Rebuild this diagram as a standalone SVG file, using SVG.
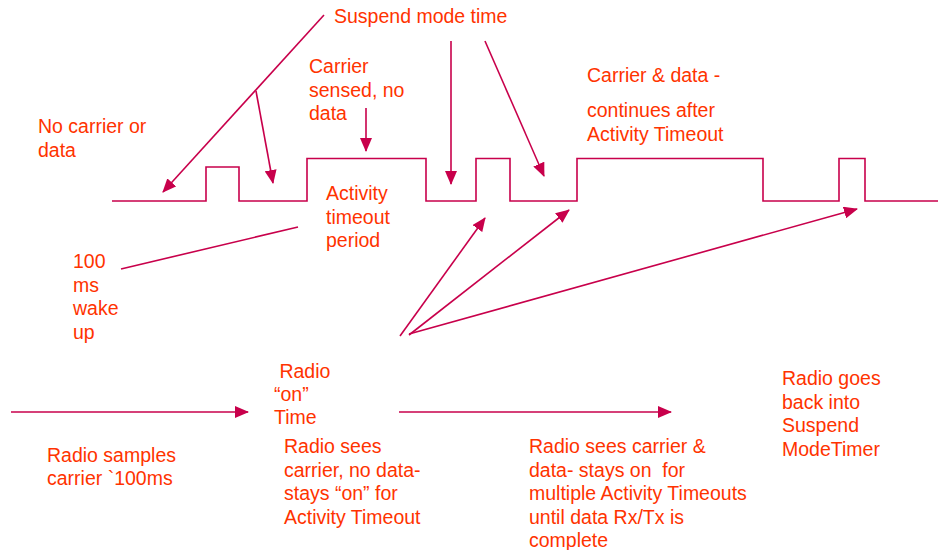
<svg xmlns="http://www.w3.org/2000/svg" width="938" height="550" viewBox="0 0 938 550">
<style>
text{font-family:"Liberation Sans",Arial,sans-serif;font-size:19.5px;fill:#FF3300}
.ln{stroke:#C8004B;stroke-width:1.6;fill:none}
.ar{marker-end:url(#ah)}
</style>
<defs>
<marker id="ah" markerWidth="14" markerHeight="12" refX="13" refY="6" orient="auto" markerUnits="userSpaceOnUse">
<path d="M0,0 L14,6 L0,12 Z" fill="#C8004B"/>
</marker>
</defs>
<rect width="938" height="550" fill="#fff"/>
<g id="waveform">
<polyline class="ln" points="112,201 206,201 206,167 239,167 239,201 307,201 307,158.5 426,158.5 426,201 476,201 476,158.5 510,158.5 510,201 577,201 577,158.5 763,158.5 763,201 839,201 839,158.5 865,158.5 865,201 938,201"/>
</g>
<g id="connectors">
<line class="ln ar" x1="324" y1="15" x2="163" y2="192"/>
<line class="ln ar" x1="256" y1="91" x2="273" y2="183"/>
<line class="ln ar" x1="451" y1="41" x2="451" y2="184"/>
<line class="ln ar" x1="485" y1="41" x2="544" y2="176"/>
<line class="ln ar" x1="366" y1="108" x2="366" y2="151"/>
<line class="ln" x1="121" y1="269" x2="298" y2="227"/>
<line class="ln ar" x1="400" y1="336" x2="485" y2="218"/>
<line class="ln ar" x1="409" y1="335" x2="569" y2="210"/>
<line class="ln ar" x1="409" y1="334" x2="857" y2="209"/>
<line class="ln ar" x1="11" y1="412" x2="248" y2="412"/>
<line class="ln ar" x1="399" y1="412" x2="671" y2="412"/>
</g>
<g id="suspend-label"><text x="334" y="23">Suspend mode time</text></g>
<g id="no-carrier"><text x="38" y="133">No carrier or</text><text x="38" y="157">data</text></g>
<g id="carrier-sensed"><text x="309" y="73">Carrier</text><text x="309" y="97">sensed, no</text><text x="309" y="120">data</text></g>
<g id="carrier-data"><text x="587" y="82">Carrier &amp; data -</text><text x="587" y="117">continues after</text><text x="587" y="141">Activity Timeout</text></g>
<g id="activity-timeout"><text x="326" y="200">Activity</text><text x="326" y="224">timeout</text><text x="326" y="247">period</text></g>
<g id="wake-up"><text x="73" y="268">100</text><text x="73" y="291.5">ms</text><text x="73" y="315">wake</text><text x="73" y="338.5">up</text></g>
<g id="radio-on"><text x="274" y="378" xml:space="preserve"> Radio</text><text x="274" y="401">“on”</text><text x="274" y="424">Time</text></g>
<g id="radio-samples"><text x="47" y="462">Radio samples</text><text x="47" y="485">carrier `100ms</text></g>
<g id="radio-sees-no-data"><text x="284" y="453">Radio sees</text><text x="284" y="477">carrier, no data-</text><text x="284" y="500">stays “on” for</text><text x="284" y="524">Activity Timeout</text></g>
<g id="radio-sees-data"><text x="529" y="453">Radio sees carrier &amp;</text><text x="529" y="477" xml:space="preserve">data- stays on  for</text><text x="529" y="500">multiple Activity Timeouts</text><text x="529" y="524">until data Rx/Tx is</text><text x="529" y="547">complete</text></g>
<g id="radio-back"><text x="782" y="385">Radio goes</text><text x="782" y="409">back into</text><text x="782" y="432">Suspend</text><text x="782" y="456">ModeTimer</text></g>
</svg>
